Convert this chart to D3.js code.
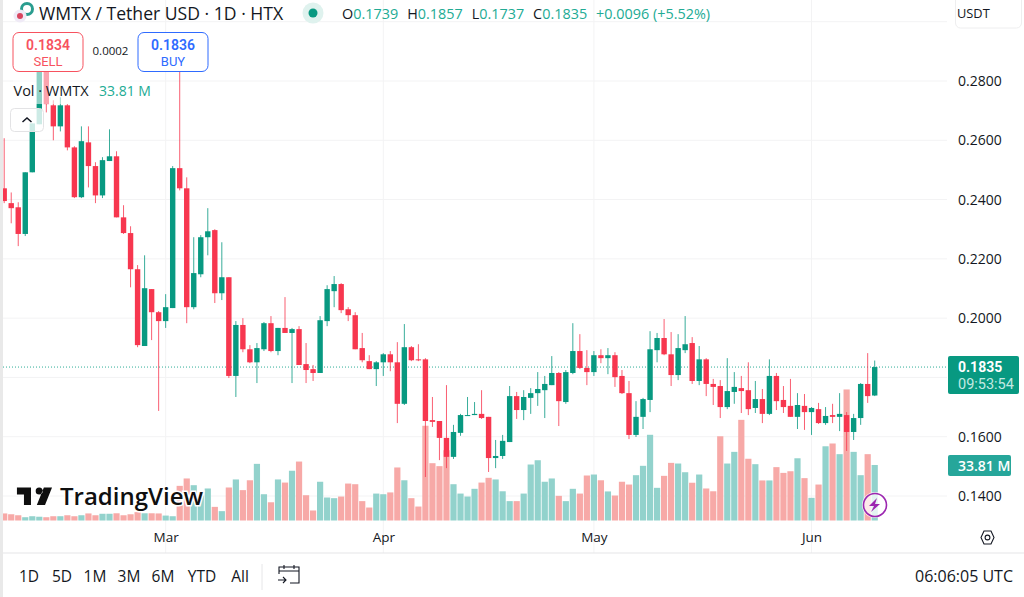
<!DOCTYPE html>
<html>
<head>
<meta charset="utf-8">
<script src="https://cdn.jsdelivr.net/npm/d3@7"></script>
<style>
  html, body { margin: 0; padding: 0; background: #fff; }
  svg { display: block; }
  text { font-family: "Open Sans", "Noto Sans", sans-serif; fill: #131722; }
  text.tight { font-family: Roboto, "Open Sans", sans-serif; }
</style>
</head>
<body>
<svg id="chart"></svg>
<script>
var width = 1024, height = 597;

var up = "#089981", down = "#f7374f";
var upVol = "#92d2cc", downVol = "#f7a9a7";

// open, high, low, close, volume (M), one row per day from 6 Feb
var rows = [
  [.2438,.2607,.2388,.2395,4.3],[.2388,.2424,.2320,.2371,3.8],[.2374,.2391,.2243,.2284,3.2],[.2284,.2492,.2277,.2492,2.0],
  [.2492,.2657,.2492,.2657,2.6],[.2654,.2935,.2654,.2900,2.3],[.2886,.2920,.2694,.2722,2.0],[.2718,.2735,.2600,.2647,2.6],
  [.2647,.2745,.2630,.2718,2.6],[.2718,.2722,.2566,.2576,3.2],[.2576,.2580,.2405,.2408,2.6],[.2408,.2647,.2405,.2597,3.2],
  [.2593,.2647,.2441,.2513,4.3],[.2513,.2526,.2388,.2414,3.2],[.2414,.2543,.2405,.2533,4.1],[.2530,.2637,.2530,.2546,4.1],
  [.2546,.2563,.2340,.2340,4.4],[.2340,.2381,.2284,.2287,3.2],[.2287,.2310,.2104,.2165,3.8],[.2165,.2179,.1902,.1909,5.1],
  [.1906,.2212,.1906,.2101,4.4],[.2098,.2098,.1926,.2020,4.4],[.2020,.2024,.1687,.1990,4.3],[.1990,.2081,.1967,.2037,3.0],
  [.2034,.2513,.2034,.2506,2.6],[.2506,.2870,.2431,.2438,21.1],[.2438,.2475,.1983,.2037,25.6],[.2037,.2273,.2030,.2152,21.5],
  [.2148,.2280,.2138,.2273,15.2],[.2273,.2371,.2212,.2293,19.5],[.2297,.2300,.2051,.2084,8.3],[.2084,.2256,.2061,.2138,5.7],
  [.2138,.2138,.1798,.1805,20.1],[.1805,.1990,.1734,.1977,25.0],[.1977,.2000,.1885,.1895,18.5],[.1895,.1909,.1848,.1851,24.5],
  [.1851,.1916,.1781,.1899,34.5],[.1895,.1987,.1889,.1983,16.0],[.1983,.2007,.1885,.1889,11.1],[.1889,.1967,.1875,.1967,25.0],
  [.1967,.2071,.1950,.1950,23.1],[.1950,.1967,.1781,.1963,30.3],[.1963,.1973,.1842,.1842,35.9],[.1845,.1916,.1781,.1825,15.4],
  [.1828,.1842,.1788,.1815,6.1],[.1815,.2007,.1815,.1993,23.6],[.1990,.2111,.1973,.2098,14.0],[.2091,.2142,.2037,.2115,13.6],
  [.2115,.2118,.2017,.2027,14.6],[.2030,.2037,.1990,.2010,22.5],[.2010,.2020,.1895,.1895,22.1],[.1899,.1950,.1851,.1858,11.8],
  [.1855,.1875,.1828,.1828,7.9],[.1828,.1855,.1771,.1851,16.4],[.1851,.1882,.1805,.1878,16.0],[.1878,.1889,.1821,.1851,17.1],
  [.1851,.1919,.1646,.1711,32.3],[.1711,.1980,.1707,.1902,24.5],[.1902,.1906,.1855,.1858,13.6],[.1861,.1912,.1855,.1858,8.5],
  [.1861,.1865,.1464,.1653,57.7],[.1656,.1734,.1633,.1650,34.9],[.1653,.1653,.1521,.1596,33.1],[.1596,.1774,.1494,.1532,42.8],
  [.1532,.1640,.1525,.1616,22.1],[.1613,.1677,.1603,.1673,16.4],[.1670,.1734,.1670,.1673,14.6],[.1673,.1717,.1673,.1677,19.3],
  [.1677,.1757,.1660,.1663,23.1],[.1667,.1667,.1481,.1528,26.0],[.1528,.1589,.1494,.1535,25.0],[.1535,.1606,.1525,.1586,17.8],
  [.1582,.1771,.1582,.1737,11.8],[.1737,.1751,.1660,.1690,11.8],[.1690,.1757,.1656,.1734,16.4],[.1731,.1764,.1677,.1747,34.1],
  [.1747,.1818,.1704,.1761,36.7],[.1757,.1805,.1663,.1778,23.6],[.1774,.1872,.1774,.1815,25.6],[.1815,.1818,.1636,.1720,15.0],
  [.1717,.1825,.1711,.1818,11.8],[.1815,.1983,.1811,.1889,19.3],[.1889,.1946,.1828,.1832,16.4],[.1832,.1892,.1774,.1818,27.4],
  [.1818,.1889,.1805,.1875,28.0],[.1875,.1895,.1848,.1865,24.5],[.1865,.1899,.1811,.1875,17.7],[.1875,.1885,.1768,.1801,15.2],
  [.1805,.1825,.1744,.1747,23.6],[.1747,.1788,.1592,.1606,21.9],[.1606,.1720,.1599,.1667,27.6],[.1667,.1731,.1626,.1727,33.3],
  [.1724,.1956,.1683,.1895,52.2],[.1892,.1950,.1851,.1933,19.9],[.1933,.1997,.1875,.1878,27.2],[.1878,.1953,.1771,.1808,35.1],
  [.1808,.1946,.1791,.1899,34.7],[.1892,.2007,.1882,.1912,29.4],[.1916,.1936,.1778,.1788,23.0],[.1788,.1906,.1774,.1861,28.0],
  [.1861,.1865,.1737,.1778,19.5],[.1778,.1795,.1707,.1768,17.8],[.1771,.1791,.1663,.1700,51.3],[.1700,.1865,.1693,.1754,34.7],
  [.1751,.1818,.1711,.1768,41.8],[.1764,.1805,.1680,.1754,61.3],[.1757,.1851,.1673,.1693,37.6],[.1697,.1788,.1680,.1727,34.3],
  [.1727,.1761,.1646,.1677,24.4],[.1677,.1861,.1673,.1805,24.4],[.1805,.1815,.1690,.1720,32.5],[.1724,.1771,.1680,.1700,29.0],
  [.1704,.1795,.1667,.1667,30.0],[.1667,.1747,.1626,.1707,37.9],[.1704,.1744,.1623,.1683,25.8],[.1683,.1700,.1606,.1697,13.8],
  [.1693,.1714,.1643,.1646,21.9],[.1646,.1700,.1640,.1670,45.2],[.1673,.1711,.1646,.1667,46.9],[.1667,.1747,.1619,.1677,40.4],
  [.1673,.1683,.1552,.1616,79.8],[.1616,.1677,.1589,.1663,41.8],[.1663,.1781,.1640,.1778,27.6],[.1778,.1882,.1714,.1737,40.4],
  [.1739,.1857,.1737,.1835,33.81]
];

var start = new Date(Date.UTC(2025, 1, 6));
var data = rows.map(function(r, i) {
  return { date: d3.utcDay.offset(start, i), o: r[0], h: r[1], l: r[2], c: r[3], v: r[4] };
});
var last = data[data.length - 1];

var panel = { left: 3, right: 947, top: 0, volBase: 520.5, bottom: 553 };

var xScale = d3.scaleUtc()
  .domain([start, last.date])
  .range([4.2, 874.7]);

var yScale = d3.scaleLinear()
  .domain([0.14, 0.28])
  .range([496, 81]);

var volScale = d3.scaleLinear()
  .domain([0, 100])
  .range([panel.volBase, panel.volBase - 164.2]);

var svg = d3.select("#chart")
  .attr("width", width)
  .attr("height", height)
  .attr("viewBox", "0 0 " + width + " " + height);

svg.append("defs").append("clipPath").attr("id", "plot")
  .append("rect")
  .attr("x", panel.left).attr("y", 0)
  .attr("width", panel.right - panel.left).attr("height", panel.bottom);

// page edge on the left
svg.append("rect").attr("x", 0).attr("y", 0).attr("width", 3).attr("height", height).attr("fill", "#e9e9e9");

// grid
var priceTicks = d3.range(0.14, 0.3001, 0.02);
var monthTicks = [1, 2, 3, 4].map(function(m) { return new Date(Date.UTC(2025, m + 1, 1)); });

svg.append("g").selectAll("line").data(priceTicks).enter().append("line")
  .attr("x1", panel.left).attr("x2", panel.right)
  .attr("y1", function(d) { return yScale(d); })
  .attr("y2", function(d) { return yScale(d); })
  .attr("stroke", "#f3f3f4");

svg.append("g").selectAll("line").data(monthTicks).enter().append("line")
  .attr("x1", function(d) { return xScale(d); })
  .attr("x2", function(d) { return xScale(d); })
  .attr("y1", 0).attr("y2", panel.bottom)
  .attr("stroke", "#f3f3f4");

var plot = svg.append("g").attr("clip-path", "url(#plot)");

// volume
var barWidth = 6.2;
plot.append("g").selectAll("rect").data(data).enter().append("rect")
  .attr("x", function(d) { return xScale(d.date) - barWidth / 2; })
  .attr("y", function(d) { return volScale(d.v); })
  .attr("width", barWidth)
  .attr("height", function(d) { return volScale(0) - volScale(d.v); })
  .attr("fill", function(d) { return d.c >= d.o ? upVol : downVol; });

// last price line
plot.append("line")
  .attr("x1", panel.left).attr("x2", panel.right)
  .attr("y1", yScale(last.c)).attr("y2", yScale(last.c))
  .attr("stroke", "#2fae98")
  .attr("stroke-dasharray", "1 2");

// candles
var candles = plot.append("g").selectAll("g").data(data).enter().append("g");

candles.append("line")
  .attr("x1", function(d) { return xScale(d.date); })
  .attr("x2", function(d) { return xScale(d.date); })
  .attr("y1", function(d) { return yScale(d.h); })
  .attr("y2", function(d) { return yScale(d.l); })
  .attr("stroke", function(d) { return d.c >= d.o ? up : down; })
  .attr("stroke-opacity", 0.8);

var bodyWidth = 5.4;
candles.append("rect")
  .attr("x", function(d) { return xScale(d.date) - bodyWidth / 2; })
  .attr("y", function(d) { return yScale(Math.max(d.o, d.c)); })
  .attr("width", bodyWidth)
  .attr("height", function(d) { return Math.max(1, Math.abs(yScale(d.o) - yScale(d.c))); })
  .attr("fill", function(d) { return d.c >= d.o ? up : down; });

// price axis
var yAxis = d3.axisRight(yScale)
  .tickValues(d3.range(0.14, 0.2801, 0.02).filter(function(d) { return Math.abs(d - 0.18) > 0.001; }))
  .tickFormat(d3.format(".4f"))
  .tickSize(0)
  .tickPadding(0);

var yAxisG = svg.append("g")
  .attr("transform", "translate(958,0)")
  .call(yAxis);
yAxisG.select(".domain").remove();
yAxisG.selectAll("text").attr("font-size", 14).attr("font-weight", 500).style("font-family", "'Open Sans'");

// time axis
var xAxis = d3.axisBottom(xScale)
  .tickValues(monthTicks)
  .tickFormat(d3.utcFormat("%b"))
  .tickSize(0)
  .tickPadding(0);

var xAxisG = svg.append("g")
  .attr("transform", "translate(0,532)")
  .call(xAxis);
xAxisG.select(".domain").remove();
xAxisG.selectAll("text").attr("font-size", 13.5).attr("font-weight", 500).style("font-family", "'Open Sans'");

svg.append("line")
  .attr("x1", panel.left).attr("x2", width)
  .attr("y1", panel.bottom).attr("y2", panel.bottom)
  .attr("stroke", "#e6e6e8").attr("stroke-width", 1.2);

// price badges
svg.append("rect").attr("x", 948).attr("y", 356).attr("width", 71).attr("height", 38).attr("rx", 2).attr("fill", up);
svg.append("text").attr("class", "tight").attr("x", 958).attr("y", 371.5).attr("font-size", 14).attr("font-weight", 700)
  .style("fill", "#fff").text(d3.format(".4f")(last.c));
svg.append("text").attr("class", "tight").attr("x", 958).attr("y", 388.5).attr("font-size", 14.5)
  .style("fill", "#c3e9e2").text("09:53:54");

svg.append("rect").attr("x", 948).attr("y", 455).attr("width", 63).attr("height", 21).attr("rx", 2).attr("fill", "#26a69a");
svg.append("text").attr("x", 958).attr("y", 471).attr("font-size", 14).attr("font-weight", 600)
  .style("fill", "#fff").text("33.81 M");

// header
svg.append("circle").attr("cx", 27).attr("cy", 9).attr("r", 5.5).attr("fill", "none").attr("stroke", "#2a9d8f").attr("stroke-width", 3);
svg.append("circle").attr("cx", 20).attr("cy", 16).attr("r", 6.5).attr("fill", "#efeaf6");
svg.append("circle").attr("cx", 20).attr("cy", 16).attr("r", 3).attr("fill", "#d8455f");

svg.append("text").attr("x", 39).attr("y", 20).attr("font-size", 17.6).text("WMTX / Tether USD · 1D · HTX");

svg.append("circle").attr("cx", 313).attr("cy", 13).attr("r", 10.5).attr("fill", "#dff2ee");
svg.append("circle").attr("cx", 313).attr("cy", 13).attr("r", 4.5).attr("fill", up);

var ohlc = svg.append("text").attr("x", 342).attr("y", 18.5).attr("font-size", 14.4);
[["O", last.o], ["H", last.h], ["L", last.l], ["C", last.c]].forEach(function(p, i) {
  ohlc.append("tspan").attr("dx", i ? 9 : 0).text(p[0]);
  ohlc.append("tspan").style("fill", "#22ab94").text(d3.format(".4f")(p[1]));
});
ohlc.append("tspan").attr("dx", 9).style("fill", "#22ab94").text("+0.0096 (+5.52%)");

svg.append("rect").attr("x", 955.5).attr("y", -5).attr("width", 66).attr("height", 33).attr("rx", 5)
  .attr("fill", "#fff").attr("stroke", "#eeeeef");
svg.append("text").attr("x", 957).attr("y", 18).attr("font-size", 12.8).attr("font-weight", 500).text("USDT");

// sell / buy
function orderBox(x, color, price, label) {
  svg.append("rect").attr("x", x).attr("y", 32.5).attr("width", 70).attr("height", 39).attr("rx", 6)
    .attr("fill", "#fff").attr("stroke", color);
  svg.append("text").attr("class", "tight").attr("x", x + 35).attr("y", 49.5).attr("text-anchor", "middle").attr("font-size", 14)
    .attr("font-weight", 600).style("fill", color).text(price);
  svg.append("text").attr("class", "tight").attr("x", x + 35).attr("y", 65.5).attr("text-anchor", "middle").attr("font-size", 13)
    .style("fill", color).text(label);
}
orderBox(13, "#f7525f", "0.1834", "SELL");
orderBox(138, "#2f6bff", "0.1836", "BUY");
svg.append("text").attr("x", 110.5).attr("y", 55).attr("text-anchor", "middle").attr("font-size", 11.5).text("0.0002");

// volume legend
svg.append("rect").attr("x", 13).attr("y", 72).attr("width", 137).attr("height", 32).attr("fill", "#fff").attr("fill-opacity", 0.55);
svg.append("text").attr("x", 13.5).attr("y", 96).attr("font-size", 14.5).text("Vol · WMTX");
svg.append("text").attr("x", 99).attr("y", 96).attr("font-size", 14).style("fill", "#22ab94").text("33.81 M");

svg.append("rect").attr("x", 10.5).attr("y", 108.5).attr("width", 33).attr("height", 23).attr("rx", 4)
  .attr("fill", "#fff").attr("fill-opacity", 0.8).attr("stroke", "#e3e3e5");
svg.append("path").attr("d", "M22.5 122l4.5-4 4.5 4").attr("fill", "none").attr("stroke", "#131722").attr("stroke-width", 1.5);

// watermark
var logoPath = "M14 6H2v6h6v9h6V6Zm12 15h-7l6-15h7l-6 15Zm-5-9a3 3 0 1 0 0-6 3 3 0 0 0 0 6Z";
svg.append("path").attr("d", logoPath)
  .attr("transform", "translate(14.6,480.5) scale(1.17)")
  .attr("fill", "#0f0f0f").attr("stroke", "#fff").attr("stroke-width", 2).attr("paint-order", "stroke");
svg.append("text").attr("x", 60).attr("y", 505).attr("font-size", 24).attr("font-weight", 600)
  .attr("stroke", "#fff").attr("stroke-width", 3).attr("paint-order", "stroke")
  .style("fill", "#0f0f0f").text("TradingView");

// lightning button
svg.append("circle").attr("cx", 875).attr("cy", 505).attr("r", 13).attr("fill", "#fff").attr("fill-opacity", 0.75);
svg.append("circle").attr("cx", 875).attr("cy", 505).attr("r", 11.5).attr("fill", "none").attr("stroke", "#9c27b0").attr("stroke-width", 1.6);
svg.append("path").attr("d", "M877 498l-8 8h5l-3 6 9-8h-5l2-6Z").attr("fill", "#9c27b0");

// settings hexagon
svg.append("path").attr("d", "M981 537.5l3-6.5h7l3 6.5-3 6.5h-7Z").attr("fill", "none").attr("stroke", "#131722").attr("stroke-width", 1.1);
svg.append("circle").attr("cx", 987.5).attr("cy", 537.5).attr("r", 2.4).attr("fill", "none").attr("stroke", "#131722").attr("stroke-width", 1.1);

// bottom bar
var ranges = [["1D", 29], ["5D", 62], ["1M", 95], ["3M", 129], ["6M", 163], ["YTD", 202], ["All", 240]];
svg.append("g").selectAll("text").data(ranges).enter().append("text")
  .attr("x", function(d) { return d[1]; })
  .attr("y", 582)
  .attr("text-anchor", "middle")
  .attr("font-size", 15.5)
  .text(function(d) { return d[0]; });

svg.append("line").attr("x1", 262).attr("x2", 262).attr("y1", 564).attr("y2", 590).attr("stroke", "#e6e6e8");
svg.append("path")
  .attr("d", "M279 574v-7h20v16h-9M279 571h20M284 565v4M294 565v4M278 580h8M283 577l3 3-3 3")
  .attr("fill", "none").attr("stroke", "#131722").attr("stroke-width", 1.1);

svg.append("text").attr("x", 1013).attr("y", 582).attr("text-anchor", "end").attr("font-size", 16).text("06:06:05 UTC");
</script>
</body>
</html>
